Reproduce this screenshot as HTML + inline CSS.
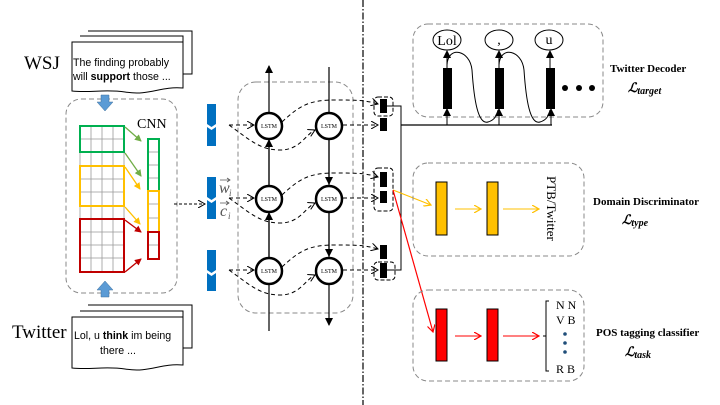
<!DOCTYPE html>
<html><head><style>
html,body{margin:0;padding:0;background:#fff;}
svg{display:block;}
.s{font-family:"Liberation Serif",serif;}
.a{font-family:"Liberation Sans",sans-serif;}
</style></head><body>
<svg width="720" height="405" viewBox="0 0 720 405" xmlns="http://www.w3.org/2000/svg">
<defs>
<marker id="ak" markerWidth="8" markerHeight="8" refX="7" refY="4" orient="auto" markerUnits="userSpaceOnUse"><path d="M0,0 L8,4 L0,8 z" fill="#000"/></marker>
<marker id="ao" markerWidth="8" markerHeight="8" refX="7" refY="4" orient="auto" markerUnits="userSpaceOnUse"><path d="M0,0 L7,4 L0,8" fill="none" stroke="#000" stroke-width="1"/></marker>
<marker id="ay" markerWidth="8" markerHeight="8" refX="7" refY="4" orient="auto" markerUnits="userSpaceOnUse"><path d="M0,0 L7,4 L0,8" fill="none" stroke="#ffc000" stroke-width="1.2"/></marker>
<marker id="ar" markerWidth="8" markerHeight="8" refX="7" refY="4" orient="auto" markerUnits="userSpaceOnUse"><path d="M0,0 L7,4 L0,8" fill="none" stroke="#f00" stroke-width="1.2"/></marker>
<marker id="ag" markerWidth="7" markerHeight="7" refX="6" refY="3.5" orient="auto" markerUnits="userSpaceOnUse"><path d="M0,0 L7,3.5 L0,7 z" fill="#70ad47"/></marker>
<marker id="ayf" markerWidth="7" markerHeight="7" refX="6" refY="3.5" orient="auto" markerUnits="userSpaceOnUse"><path d="M0,0 L7,3.5 L0,7 z" fill="#ffc000"/></marker>
<marker id="arf" markerWidth="7" markerHeight="7" refX="6" refY="3.5" orient="auto" markerUnits="userSpaceOnUse"><path d="M0,0 L7,3.5 L0,7 z" fill="#c00000"/></marker>
</defs>

<!-- WSJ docs -->
<text x="24" y="69" class="s" font-size="19">WSJ</text>
<path d="M88,31 H192 V74 H183" fill="#fff" stroke="#000" stroke-width="1"/>
<path d="M80,36 H183 V80 H176" fill="#fff" stroke="#000" stroke-width="1"/>
<path d="M72,42 H183 V88 C160,86 150,96 125,92 C105,89 90,93 72,91 Z" fill="#fff" stroke="#000" stroke-width="1"/>
<text x="73" y="66" class="a" font-size="10.6">The finding probably</text>
<text x="73" y="80" class="a" font-size="10.6">will <tspan font-weight="bold">support</tspan> those ...</text>

<!-- Twitter docs -->
<text x="12" y="338" class="s" font-size="19">Twitter</text>
<path d="M88,305 H192 V348 H183" fill="#fff" stroke="#000" stroke-width="1"/>
<path d="M80,311 H183 V354 H176" fill="#fff" stroke="#000" stroke-width="1"/>
<path d="M72,317 H183 V365 C160,363 150,373 125,369 C105,366 90,370 72,368 Z" fill="#fff" stroke="#000" stroke-width="1"/>
<text x="74" y="339" class="a" font-size="10.6">Lol, u <tspan font-weight="bold">think</tspan> im being</text>
<text x="100" y="354" class="a" font-size="10.6">there ...</text>

<!-- CNN box -->
<rect x="66" y="99" width="111" height="194" rx="15" fill="none" stroke="#888" stroke-dasharray="5,3"/>
<text x="137" y="128" class="s" font-size="14">CNN</text>
<path d="M101,95 h8 v7 h4 l-8,9 l-8,-9 h4 z" fill="#5b9bd5" stroke="#41719c" stroke-width="0.5"/>
<path d="M101,297 h8 v-7 h4 l-8,-9 l-8,9 h4 z" fill="#5b9bd5" stroke="#41719c" stroke-width="0.5"/>
<g stroke="#999" stroke-width="0.8">
<line x1="91" y1="126" x2="91" y2="272"/><line x1="102" y1="126" x2="102" y2="272"/><line x1="113" y1="126" x2="113" y2="272"/>
<line x1="80" y1="139" x2="124" y2="139"/><line x1="80" y1="179" x2="124" y2="179"/><line x1="80" y1="192" x2="124" y2="192"/>
<line x1="80" y1="232" x2="124" y2="232"/><line x1="80" y1="245" x2="124" y2="245"/><line x1="80" y1="258" x2="124" y2="258"/>
<line x1="80" y1="126" x2="80" y2="272"/><line x1="124" y1="126" x2="124" y2="272"/>
<line x1="148" y1="152" x2="159" y2="152"/><line x1="148" y1="165" x2="159" y2="165"/><line x1="148" y1="178" x2="159" y2="178"/>
<line x1="148" y1="204" x2="159" y2="204"/><line x1="148" y1="218" x2="159" y2="218"/><line x1="148" y1="245" x2="159" y2="245"/>
</g>
<rect x="80" y="126" width="44" height="26" fill="none" stroke="#00b050" stroke-width="2"/>
<rect x="80" y="166" width="44" height="40" fill="none" stroke="#ffc000" stroke-width="2"/>
<rect x="80" y="219" width="44" height="53" fill="none" stroke="#c00000" stroke-width="2"/>
<rect x="148" y="139" width="11" height="52" fill="none" stroke="#00b050" stroke-width="2"/>
<rect x="148" y="191" width="11" height="41" fill="none" stroke="#ffc000" stroke-width="2"/>
<rect x="148" y="232" width="11" height="27" fill="none" stroke="#c00000" stroke-width="2"/>
<g stroke-width="1.3">
<line x1="125" y1="127" x2="141" y2="141" stroke="#70ad47" marker-end="url(#ag)"/>
<line x1="125" y1="153" x2="141" y2="176" stroke="#70ad47" marker-end="url(#ag)"/>
<line x1="125" y1="167" x2="140" y2="189" stroke="#ffc000" marker-end="url(#ayf)"/>
<line x1="125" y1="207" x2="140" y2="224" stroke="#ffc000" marker-end="url(#ayf)"/>
<line x1="125" y1="220" x2="141" y2="232" stroke="#c00000" marker-end="url(#arf)"/>
<line x1="125" y1="272" x2="141" y2="259" stroke="#c00000" marker-end="url(#arf)"/>
</g>
<line x1="174" y1="204" x2="205" y2="204" stroke="#000" stroke-dasharray="3,2" marker-end="url(#ao)"/>

<!-- blue bars -->
<g fill="#0070c0">
<path d="M207,104 h9 v20 l-4.5,3 l-4.5,-3 z"/><path d="M207,127 l4.5,3 l4.5,-3 v19 h-9 z"/>
<path d="M207,177 h9 v20 l-4.5,3 l-4.5,-3 z"/><path d="M207,200 l4.5,3 l4.5,-3 v19 h-9 z"/>
<path d="M207,250 h9 v20 l-4.5,3 l-4.5,-3 z"/><path d="M207,273 l4.5,3 l4.5,-3 v18 h-9 z"/>
</g>
<g fill="#555" class="s" font-style="italic">
<text x="219" y="193" font-size="16">w</text>
<text x="229" y="196" font-size="9">i</text>
<text x="220" y="216" font-size="16">c</text>
<text x="228" y="219" font-size="9">i</text>
</g>
<g stroke="#555" stroke-width="0.8" fill="none">
<path d="M220,180 h10 M227,178 l3,2 l-3,2"/>
<path d="M220,203 h9 M226,201 l3,2 l-3,2"/>
</g>

<!-- LSTM box -->
<rect x="238" y="82" width="115" height="231" rx="18" fill="none" stroke="#888" stroke-dasharray="5,3"/>
<line x1="269" y1="331" x2="269" y2="66" stroke="#000" stroke-width="1.2" marker-end="url(#ak)"/>
<line x1="329" y1="67" x2="329" y2="325" stroke="#000" stroke-width="1.2" marker-end="url(#ak)"/>
<g stroke="#000" stroke-width="1.2" marker-end="url(#ak)">
<line x1="269" y1="284" x2="269" y2="213"/><line x1="269" y1="211" x2="269" y2="140"/>
<line x1="329" y1="139" x2="329" y2="184"/><line x1="329" y1="211" x2="329" y2="256"/>
</g>
<g fill="none" stroke="#000" stroke-dasharray="4,3" stroke-width="1">
<g id="rowc">
<line x1="229" y1="125" x2="254" y2="125" marker-end="url(#ao)"/>
<path d="M229,125 C250,140 260,150 280,150 C300,150 305,135 315,130" marker-end="url(#ao)"/>
<path d="M282,122 C300,105 310,100 335,100 C355,100 365,100 378,104" marker-end="url(#ao)"/>
<line x1="343" y1="125" x2="378" y2="125" marker-end="url(#ao)"/>
</g>
<use href="#rowc" y="73"/>
<use href="#rowc" y="145"/>
</g>
<g fill="#fff" stroke="#000" stroke-width="2.5">
<circle cx="269" cy="126" r="13"/><circle cx="329" cy="126" r="13"/>
<circle cx="269" cy="199" r="13"/><circle cx="329" cy="199" r="13"/>
<circle cx="269" cy="271" r="13"/><circle cx="329" cy="271" r="13"/>
</g>
<g class="s" font-size="6" text-anchor="middle">
<text x="269" y="128">LSTM</text><text x="329" y="128">LSTM</text>
<text x="269" y="201">LSTM</text><text x="329" y="201">LSTM</text>
<text x="269" y="273">LSTM</text><text x="329" y="273">LSTM</text>
</g>

<!-- dash-dot divider -->
<line x1="363" y1="0" x2="363" y2="405" stroke="#000" stroke-dasharray="7,2,1.5,2" stroke-width="1.2"/>

<!-- small rects -->
<g fill="#000">
<rect x="380" y="99" width="7" height="14"/><rect x="380" y="118" width="7" height="13"/>
<rect x="380" y="172" width="7" height="15"/><rect x="380" y="191" width="7" height="12"/>
<rect x="380" y="245" width="7" height="14"/><rect x="380" y="263" width="7" height="15"/>
</g>
<g fill="none" stroke="#000" stroke-dasharray="4,2">
<rect x="374" y="97" width="19" height="19" rx="4"/>
<rect x="374" y="168" width="19" height="43" rx="4"/>
<rect x="374" y="262" width="21" height="18" rx="4"/>
</g>
<path d="M387,106 H401 V270 H387" fill="none" stroke="#000" stroke-width="1"/>
<line x1="401" y1="125" x2="552" y2="125" stroke="#000" stroke-width="1.2"/>
<line x1="393" y1="190" x2="431" y2="205" stroke="#ffc000" stroke-width="1.2" marker-end="url(#ay)"/>
<line x1="393" y1="190" x2="433" y2="332" stroke="#f00" stroke-width="1.2" marker-end="url(#ar)"/>

<!-- Decoder -->
<rect x="413" y="24" width="190" height="93" rx="15" fill="none" stroke="#888" stroke-dasharray="5,3"/>
<g fill="#fff" stroke="#000" stroke-width="1">
<ellipse cx="447" cy="40" rx="14" ry="10"/><ellipse cx="499" cy="40" rx="14" ry="10"/><ellipse cx="549" cy="40" rx="14" ry="10"/>
</g>
<g class="s" font-size="14" text-anchor="middle">
<text x="447" y="45">Lol</text><text x="499" y="44">,</text><text x="549" y="44">u</text>
</g>
<g fill="#000"><rect x="443" y="68" width="9" height="41"/><rect x="495" y="68" width="9" height="41"/><rect x="546" y="68" width="9" height="41"/>
<circle cx="565" cy="88" r="3"/><circle cx="579" cy="88" r="3"/><circle cx="592" cy="88" r="3"/></g>
<g stroke="#000" stroke-width="1" marker-end="url(#ak)">
<line x1="447" y1="68" x2="447" y2="51"/><line x1="499" y1="68" x2="499" y2="51"/><line x1="550" y1="68" x2="550" y2="51"/>
<line x1="447" y1="125" x2="447" y2="109"/><line x1="499" y1="125" x2="499" y2="109"/><line x1="551" y1="125" x2="551" y2="109"/>
</g>
<path d="M447,65 C448,45 470,50 472,70 C474,100 478,125 488,122 C495,120 497,115 498,110" fill="none" stroke="#000" stroke-width="1"/>
<path d="M499,65 C500,45 522,50 524,70 C526,100 530,125 540,122 C547,120 549,115 550,110" fill="none" stroke="#000" stroke-width="1"/>
<text x="610" y="72" class="s" font-size="11" font-weight="bold">Twitter Decoder</text>
<text x="628" y="92" class="s" font-size="13" font-weight="bold" font-style="italic">ℒ<tspan font-size="10" dy="2">target</tspan></text>

<!-- Domain -->
<rect x="413" y="163" width="171" height="93" rx="15" fill="none" stroke="#888" stroke-dasharray="5,3"/>
<rect x="436" y="182" width="11" height="53" fill="#ffc000" stroke="#000"/>
<rect x="487" y="182" width="11" height="53" fill="#ffc000" stroke="#000"/>
<line x1="455" y1="209" x2="481" y2="209" stroke="#ffc000" stroke-width="1" marker-end="url(#ay)"/>
<line x1="503" y1="209" x2="539" y2="209" stroke="#ffc000" stroke-width="1" marker-end="url(#ay)"/>
<text transform="translate(547,176) rotate(90)" class="s" font-size="13">PTB/Twitter</text>
<text x="593" y="205" class="s" font-size="11" font-weight="bold">Domain Discriminator</text>
<text x="622" y="224" class="s" font-size="13" font-weight="bold" font-style="italic">ℒ<tspan font-size="10" dy="2">type</tspan></text>

<!-- POS -->
<rect x="413" y="290" width="171" height="91" rx="15" fill="none" stroke="#888" stroke-dasharray="5,3"/>
<rect x="436" y="309" width="11" height="52" fill="#f00" stroke="#000"/>
<rect x="487" y="309" width="11" height="52" fill="#f00" stroke="#000"/>
<line x1="455" y1="336" x2="481" y2="336" stroke="#f00" stroke-width="1" marker-end="url(#ar)"/>
<line x1="503" y1="336" x2="539" y2="336" stroke="#f00" stroke-width="1" marker-end="url(#ar)"/>
<path d="M549,301 h-3 V371 h3 M543,336 h3" fill="none" stroke="#000" stroke-width="1"/>
<g class="s" font-size="12"><text x="556" y="309">N N</text><text x="556" y="324">V B</text><text x="556" y="373">R B</text></g>
<g fill="#1f4e79"><circle cx="565" cy="334" r="1.8"/><circle cx="565" cy="343" r="1.8"/><circle cx="565" cy="352" r="1.8"/></g>
<text x="596" y="336" class="s" font-size="11" font-weight="bold">POS tagging classifier</text>
<text x="625" y="356" class="s" font-size="13" font-weight="bold" font-style="italic">ℒ<tspan font-size="10" dy="2">task</tspan></text>
</svg>
</body></html>
